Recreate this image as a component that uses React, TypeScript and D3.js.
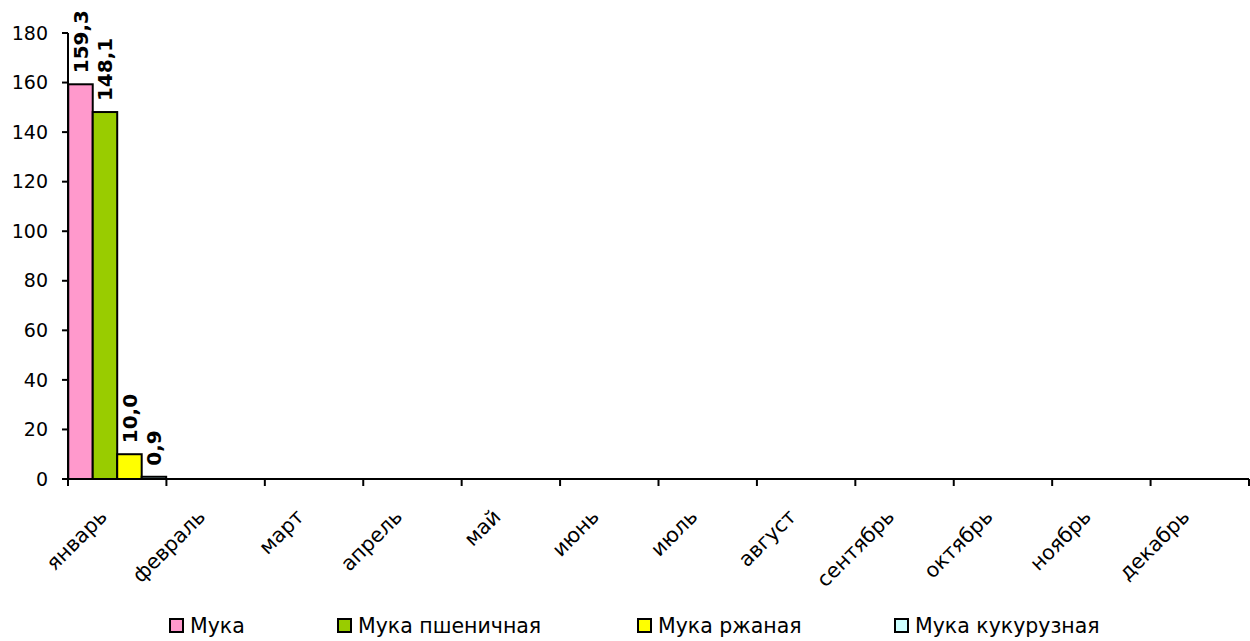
import * as d3 from 'd3';

const months = ['январь', 'февраль', 'март', 'апрель', 'май', 'июнь', 'июль', 'август', 'сентябрь', 'октябрь', 'ноябрь', 'декабрь'];
const seriesNames = ['Мука', 'Мука пшеничная', 'Мука ржаная', 'Мука кукурузная'];
const seriesColors = ['#FF99CC', '#99CC00', '#FFFF00', '#CCFFFF'];

// only January is filled in, the rest of the year is empty
const muka = [159.3, null, null, null, null, null, null, null, null, null, null, null];
const mukaPsh = [148.1, null, null, null, null, null, null, null, null, null, null, null];
const mukaRzh = [10.0, null, null, null, null, null, null, null, null, null, null, null];
const mukaKuk = [0.9, null, null, null, null, null, null, null, null, null, null, null];
const series: (number | null)[][] = [muka, mukaPsh, mukaRzh, mukaKuk];

const yTicks = [0, 20, 40, 60, 80, 100, 120, 140, 160, 180];

const W = 1250;
const H = 641;
const FONT = "Verdana, 'DejaVu Sans', sans-serif";

// legend item left edges (layout)
const legendX = [169, 337, 637, 894];

export default function App() {
  const left = 68;
  const right = 1249;
  const top = 33;
  const bottom = 479;

  const x = d3.scaleBand<string>().domain(months).range([left, right]).padding(0);
  const xs = d3.scaleBand<number>().domain(d3.range(series.length)).range([0, x.bandwidth()]).paddingInner(0).paddingOuter(0.01);
  const y = d3.scaleLinear().domain([0, 180]).range([bottom, top]);

  const fmt = (v: number) => d3.format('.1f')(v).replace('.', ',');

  return (
    <svg width={W} height={H} style={{ position: 'absolute', left: 0, top: 0, background: '#fff' }} fontFamily={FONT}>
      {/* bars */}
      {series.map((vals, si) =>
        vals.map((v, mi) => {
          if (v == null) return null;
          const bx = (x(months[mi]) as number) + (xs(si) as number);
          return (
            <rect key={`b${si}-${mi}`} x={bx} y={y(v)} width={xs.bandwidth()} height={y(0) - y(v)}
              fill={seriesColors[si]} stroke="#000" strokeWidth={2} />
          );
        })
      )}
      {/* value labels */}
      {series.map((vals, si) =>
        vals.map((v, mi) => {
          if (v == null) return null;
          const cx = (x(months[mi]) as number) + (xs(si) as number) + xs.bandwidth() / 2;
          const ty = y(v) - 11;
          return (
            <text key={`l${si}-${mi}`} transform={`translate(${cx},${ty}) rotate(-90)`} dy="0.36em"
              fontSize={20} fontWeight="bold" fill="#000">{fmt(v)}</text>
          );
        })
      )}
      {/* y axis */}
      <line x1={left} x2={left} y1={top} y2={bottom} stroke="#000" strokeWidth={2} />
      {yTicks.map(t => (
        <g key={`yt${t}`}>
          <line x1={left - 6} x2={left} y1={y(t)} y2={y(t)} stroke="#000" strokeWidth={2} />
          <text x={left - 20} y={y(t)} dy="0.35em" textAnchor="end" fontSize={19} fill="#000">{t}</text>
        </g>
      ))}
      {/* x axis */}
      <line x1={left} x2={right} y1={bottom} y2={bottom} stroke="#000" strokeWidth={2} />
      {[...months.map(m => x(m) as number), right].map((tx, i) => (
        <line key={`xt${i}`} x1={tx} x2={tx} y1={bottom} y2={bottom + 7} stroke="#000" strokeWidth={2} />
      ))}
      {months.map(m => {
        const cx = (x(m) as number) + x.bandwidth() / 2 - 9;
        return (
          <text key={`xl${m}`} transform={`translate(${cx},518) rotate(-45)`} textAnchor="end" fontSize={20.5} fill="#000">{m}</text>
        );
      })}
      {/* legend */}
      {seriesNames.map((n, i) => (
        <g key={`lg${i}`} transform={`translate(${legendX[i]},618)`}>
          <rect x={1} y={1} width={13} height={13} fill={seriesColors[i]} stroke="#000" strokeWidth={2} />
          <text x={21} y={8} dy="0.36em" fontSize={20.5} fill="#000">{n}</text>
        </g>
      ))}
    </svg>
  );
}
